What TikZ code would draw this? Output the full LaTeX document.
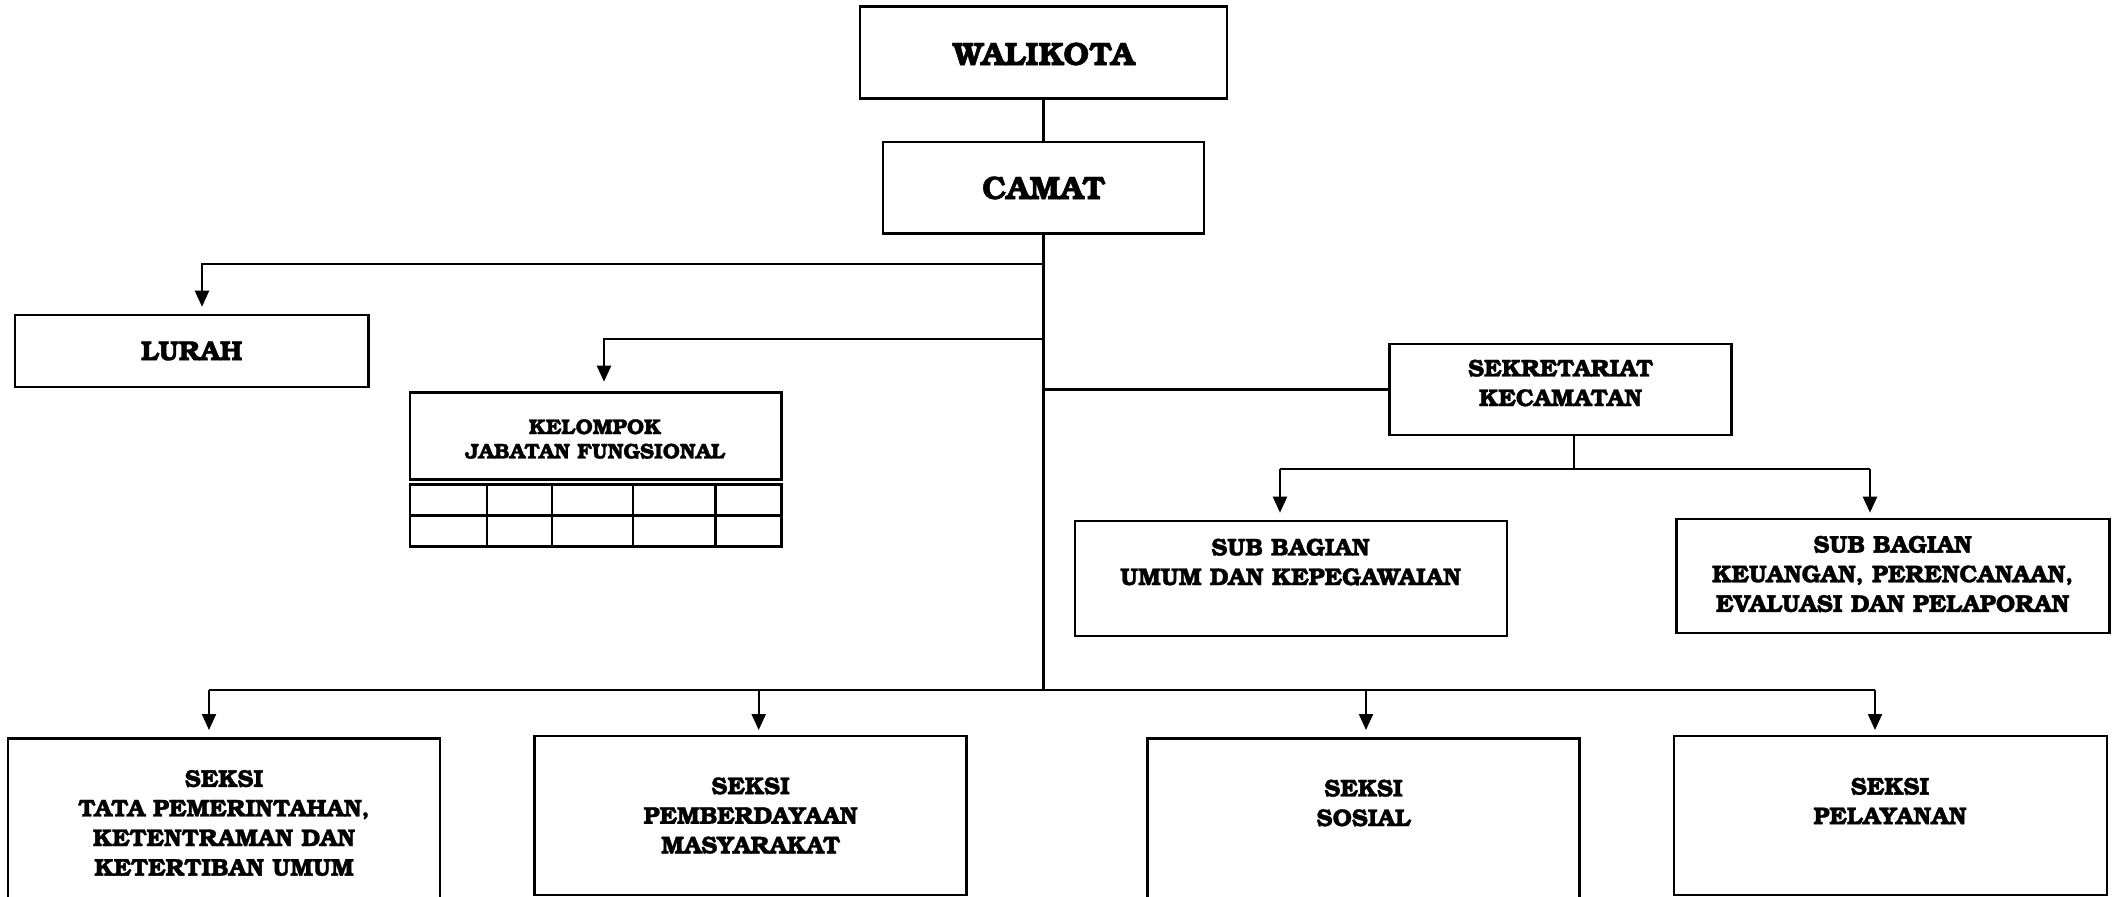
\documentclass[tikz,border=0pt]{standalone}
\usepackage{fontspec}
\setmainfont{TeX Gyre Bonum}[BoldFeatures={FakeBold=1.3}]
\usetikzlibrary{arrows.meta}
\begin{document}
\begin{tikzpicture}[x=0.5pt,y=-0.5pt,
  box/.style={draw, line width=1.3pt, inner sep=0pt},
  ln/.style={line width=1.1pt},
  arr/.style={line width=1.1pt, -{Triangle[length=8pt,width=7pt]}},
  txt/.style={align=center, inner sep=0pt, font=\bfseries},
  fL/.style={font=\fontsize{16.2}{19}\bfseries\selectfont},
  fM/.style={font=\fontsize{13.7}{16}\bfseries\selectfont},
  fS/.style={font=\fontsize{12.1}{14.8}\bfseries\selectfont},
  fXS/.style={font=\fontsize{10.7}{12.2}\bfseries\selectfont}]
\useasboundingbox (0,0) rectangle (2117,896);
% boxes
\node[box, minimum width=183.5pt, minimum height=46pt] (walikota) at (1043.5,52.7) {};
\node[box, minimum width=160.5pt, minimum height=45.8pt] (camat) at (1043.5,187.8) {};
\node[box, minimum width=176.8pt, minimum height=36pt] (lurah) at (191.7,351) {};
\node[box, minimum width=185.8pt, minimum height=43.25pt] (kelompok) at (595.8,436) {};
\node[box, minimum width=185.8pt, minimum height=31pt] (grid) at (595.8,515.5) {};
\node[box, minimum width=171pt, minimum height=45.5pt] (sek) at (1560.5,389.5) {};
\node[box, minimum width=216pt, minimum height=57.5pt] (subumum) at (1290.8,578.5) {};
\node[box, minimum width=216.5pt, minimum height=57pt] (subkeu) at (1893,576) {};
\node[box, minimum width=216pt, minimum height=88.5pt] (tata) at (224,827) {};
\node[box, minimum width=216pt, minimum height=79.5pt] (pemb) at (750.6,815.5) {};
\node[box, minimum width=216pt, minimum height=88.5pt] (sosial) at (1363.5,827) {};
\node[box, minimum width=216.5pt, minimum height=79.5pt] (pelayanan) at (1890.5,815.5) {};
% grid lines
\draw[line width=1.1pt] (grid.west) -- (grid.east);
\foreach \gx in {487,552,633,715.5}
  \draw[line width=1.1pt] (grid.north -| \gx,0) -- (grid.south -| \gx,0);
% texts
\node[txt, fL] (walikotaT) at (1043.6,54) {WALIKOTA};
\node[txt, fL] (camatT) at (1043.6,188) {CAMAT};
\node[txt, fM] (lurahT) at (191.7,351) {LURAH};
\node[txt, fXS] (kelompokT) at (595,439) {KELOMPOK\\JABATAN FUNGSIONAL};
\node[txt, fS] (sekT) at (1560.6,383) {SEKRETARIAT\\KECAMATAN};
\node[txt, fS] (subumumT) at (1290.6,562) {SUB BAGIAN\\UMUM DAN KEPEGAWAIAN};
\node[txt, fS] (subkeuT) at (1892.7,574) {SUB BAGIAN\\KEUANGAN, PERENCANAAN,\\EVALUASI DAN PELAPORAN};
\node[txt, fS] (tataT) at (224,823) {SEKSI\\TATA PEMERINTAHAN,\\KETENTRAMAN DAN\\KETERTIBAN UMUM};
\node[txt, fS] (pembT) at (750.6,815.5) {SEKSI\\PEMBERDAYAAN\\MASYARAKAT};
\node[txt, fS] (sosialT) at (1363.5,803) {SEKSI\\SOSIAL};
\node[txt, fS] (pelayananT) at (1890,801) {SEKSI\\PELAYANAN};
% coordinates
\coordinate (tL) at (1043.5,264);
\coordinate (lurahTip) at (202,306.7);
\coordinate (tK) at (1043.5,339.3);
\coordinate (kelTip) at (604,381.7);
\coordinate (bL) at (209,690);
\coordinate (bR) at (1875,690);
\coordinate (tataTip) at (209,730);
\coordinate (pembTip) at (758.7,730);
\coordinate (sosialTip) at (1366,730);
\coordinate (pelTip) at (1875,730);
\coordinate (sekTop) at (1574,434.7);
\coordinate (sL) at (1280,469);
\coordinate (sR) at (1870,469);
\coordinate (umumTip) at (1280,512.7);
\coordinate (keuTip) at (1870,512.7);
% connectors
\draw[ln] (walikota.south) -- (camat.north);
\draw[ln] (camat.south) -- (camat.south |- bL);
\draw[arr] (tL) -| (lurahTip);
\draw[arr] (tK) -| (kelTip);
\draw[ln] (sek.west -| camat.south) -- (sek.west);
\draw[ln] (bL) -- (bR);
\draw[arr] (bL) -- (tataTip);
\draw[arr] (pembTip |- bL) -- (pembTip);
\draw[arr] (sosialTip |- bL) -- (sosialTip);
\draw[arr] (bR) -- (pelTip);
\draw[ln] (sekTop) -- (sekTop |- sL);
\draw[ln] (sL) -- (sR);
\draw[arr] (sL) -- (umumTip);
\draw[arr] (sR) -- (keuTip);
\end{tikzpicture}
\end{document}
